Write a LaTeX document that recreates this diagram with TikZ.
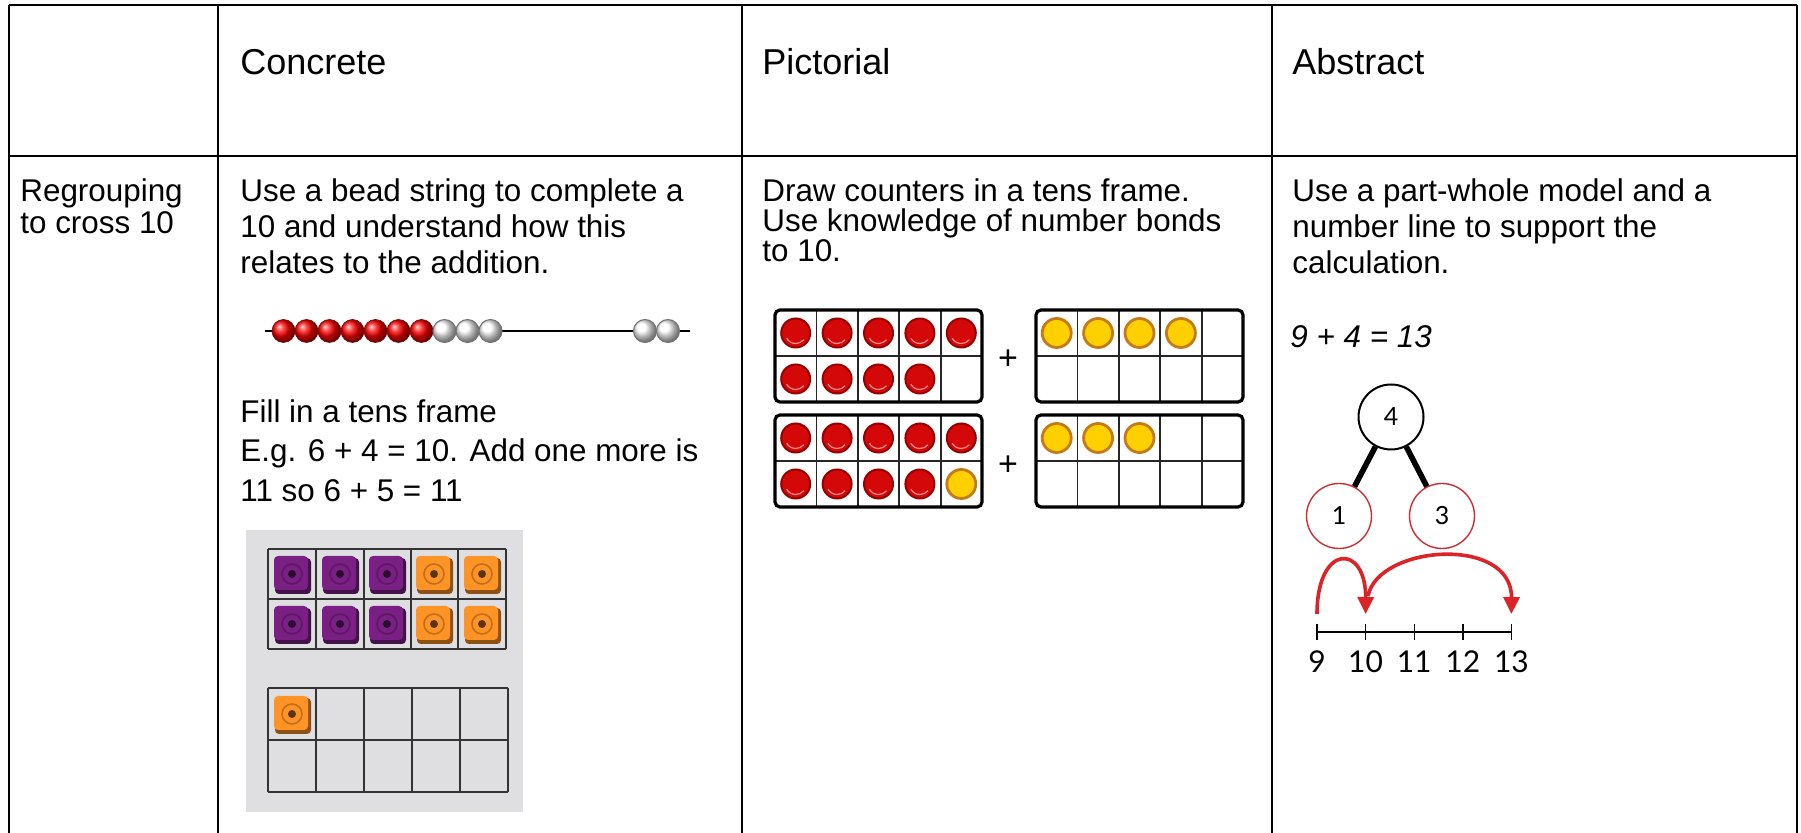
\documentclass[tikz,border=0pt]{standalone}
\usepackage{fontspec}
\setmainfont{Liberation Sans}
\newfontfamily\kidfont{Lato}
\usetikzlibrary{arrows.meta,positioning}

\definecolor{counterred}{RGB}{212,8,8}
\definecolor{counterredrim}{RGB}{150,0,0}
\definecolor{counteryel}{RGB}{255,208,0}
\definecolor{counteryelrim}{RGB}{196,122,24}
\definecolor{cubepurple}{RGB}{122,32,132}
\definecolor{cubeorange}{RGB}{255,148,38}
\definecolor{photogrey}{RGB}{223,223,226}
\definecolor{partred}{RGB}{205,45,50}
\definecolor{jumpred}{RGB}{220,35,40}

% ten frame of the pictorial column, top left corner at (#1,#2)
\newcommand{\tenframe}[2]{%
  \foreach \k in {1,...,4} {\draw[gridline] (#1+41.4*\k,#2) -- (#1+41.4*\k,#2+92);}
  \draw[gridline] (#1,#2+46) -- (#1+207,#2+46);
  \draw[frameline] (#1,#2) rectangle (#1+207,#2+92);}
% counter in column #3, row #4 of the frame at (#1,#2)
\newcommand{\putcounter}[5]{%
  \draw[#5] (#1+20.7+41.4*#3,#2+23+46*#4) circle[radius=14.5];}
% shine on a red counter
\newcommand{\shine}[4]{%
  \draw[red!45!white, line width=0.6pt] (#1+20.7+41.4*#3,#2+23+46*#4) ++(150:10.5) arc[start angle=150, end angle=40, radius=10.5];}
% linking cube seen from above
\newcommand{\putcube}[3]{%
  \fill[#3!55!black, rounded corners=2pt] (#1-17,#2-16) rectangle (#1+19,#2+20);
  \fill[#3, rounded corners=2pt] (#1-18,#2-18) rectangle (#1+16,#2+16);
  \draw[#3!75!black, line width=0.8pt] (#1,#2) circle[radius=10];
  \fill[#3!35!black] (#1,#2) circle[radius=4];}

\begin{document}
\begin{tikzpicture}[x=0.5pt,y=-0.5pt,
    rule/.style={line width=0.8pt},
    headtxt/.style={anchor=base west, inner sep=0pt, font=\fontsize{18}{22}\selectfont},
    celltxt/.style={anchor=base west, inner sep=0pt, font=\fontsize{15.7}{19}\selectfont},
    gridline/.style={line width=0.9pt, black!85},
    frameline/.style={line width=1.6pt, rounded corners=2.5pt},
    redcounter/.style={fill=counterred, draw=counterredrim, line width=1pt},
    yelcounter/.style={fill=counteryel, draw=counteryelrim, line width=1.4pt},
    photoline/.style={line width=0.7pt, black!80},
    beadline/.style={line width=0.6pt},
    redbead/.style={ball color=red, draw=red!45!black, line width=0.3pt},
    whitebead/.style={ball color=white, draw=black!55, line width=0.5pt},
    whole/.style={circle, draw, line width=1pt, minimum size=32.5pt, inner sep=0pt,
        font=\kidfont\fontsize{12.5}{14}\selectfont},
    part/.style={whole, draw=partred, line width=0.7pt},
    limb/.style={line width=2.8pt},
    tickmark/.style={line width=0.7pt},
    numlab/.style={inner sep=0pt, font=\kidfont\fontsize{15}{17}\selectfont},
    plussign/.style={inner sep=0pt, font=\fontsize{17}{20}\selectfont},
    jump/.style={draw=jumpred, line width=1.8pt, -{Triangle[length=8.5pt,width=8pt]}},
  ]
  \useasboundingbox (0,0) rectangle (1801,833);

  % table
  \draw[rule] (9,5) -- (1797,5);
  \draw[rule] (9,156) -- (1797,156);
  \foreach \x in {9,218,742,1272,1797} {\draw[rule] (\x,5) -- (\x,840);}

  % headings
  \node[headtxt] (hconc) at (240,75) {Concrete};
  \node[headtxt] (hpict) at (762,75) {Pictorial};
  \node[headtxt] (habs) at (1292,75) {Abstract};

  % row label
  \node[celltxt] (rg1) at (20,202) {Regrouping};
  \node[celltxt] (rg2) at (20,234) {to cross 10};

  % concrete
  \node[celltxt] (cc1) at (240,202) {Use a bead string to complete a};
  \node[celltxt] (cc2) at (240,238) {10 and understand how this};
  \node[celltxt] (cc3) at (240,274) {relates to the addition.};
  \draw[beadline] (265,331) -- (690,331);
  \foreach \i in {0,...,6} {\shadedraw[redbead] (283.5+23*\i,331) circle[radius=11.5];}
  \foreach \i in {7,8,9} {\shadedraw[whitebead] (283.5+23*\i,331) circle[radius=11.5];}
  \foreach \x in {645,668} {\shadedraw[whitebead] (\x,331) circle[radius=11.5];}
  \node[celltxt] (cf1) at (240,423) {Fill in a tens frame};
  \node[celltxt] (cf2) at (240,462) {E.g. 6 + 4 = 10. Add one more is};
  \node[celltxt] (cf3) at (240,502) {11 so 6 + 5 = 11};
  % photo of the cubes
  \fill[photogrey] (246,530) rectangle (523,812);
  \foreach \x in {268,316,364,411,458,506} {\draw[photoline] (\x,549) -- (\x,649);}
  \foreach \y in {549,599,649} {\draw[photoline] (268,\y) -- (506,\y);}
  \foreach \x in {268,316,364,412,460,508} {\draw[photoline] (\x,688) -- (\x,792);}
  \foreach \y in {688,740,792} {\draw[photoline] (268,\y) -- (508,\y);}
  \foreach \x in {292,340,387} {
    \putcube{\x}{574}{cubepurple}
    \putcube{\x}{624}{cubepurple}}
  \foreach \x in {434,482} {
    \putcube{\x}{574}{cubeorange}
    \putcube{\x}{624}{cubeorange}}
  \putcube{292}{714}{cubeorange}

  % pictorial
  \node[celltxt] (pc1) at (762,202) {Draw counters in a tens frame.};
  \node[celltxt] (pc2) at (762,232) {Use knowledge of number bonds};
  \node[celltxt] (pc3) at (762,262) {to 10.};
  \tenframe{775}{310}
  \foreach \c in {0,...,4} {\putcounter{775}{310}{\c}{0}{redcounter}\shine{775}{310}{\c}{0}}
  \foreach \c in {0,...,3} {\putcounter{775}{310}{\c}{1}{redcounter}\shine{775}{310}{\c}{1}}
  \tenframe{1036}{310}
  \foreach \c in {0,...,3} {\putcounter{1036}{310}{\c}{0}{yelcounter}}
  \tenframe{775}{415}
  \foreach \c in {0,...,4} {\putcounter{775}{415}{\c}{0}{redcounter}\shine{775}{415}{\c}{0}}
  \foreach \c in {0,...,3} {\putcounter{775}{415}{\c}{1}{redcounter}\shine{775}{415}{\c}{1}}
  \putcounter{775}{415}{4}{1}{yelcounter}
  \tenframe{1036}{415}
  \foreach \c in {0,...,2} {\putcounter{1036}{415}{\c}{0}{yelcounter}}
  \node[plussign] (plus1) at (1008,360) {+};
  \node[plussign] (plus2) at (1008,466) {+};

  % abstract
  \node[celltxt] (ab1) at (1292,202) {Use a part-whole model and a};
  \node[celltxt] (ab2) at (1292,238) {number line to support the};
  \node[celltxt] (ab3) at (1292,274) {calculation.};
  \node[celltxt, font=\fontsize{15.7}{19}\selectfont\itshape] (sum) at (1290,348) {9 + 4 = 13};
  \node[whole] (w4) at (1391,417) {4};
  \node[part] (p1) at (1339,516) {1};
  \node[part] (p3) at (1442,516) {3};
  \draw[limb] (w4) -- (p1);
  \draw[limb] (w4) -- (p3);
  \foreach \n [count=\i from 0] in {9,10,11,12,13} {
    \coordinate (t\n) at (1317+48.6*\i,632);
    \coordinate (a\n) at (1317+48.6*\i,614);
    \draw[tickmark] (1317+48.6*\i,624) -- (1317+48.6*\i,640);
    \node[numlab] (n\n) at (1317+48.6*\i,662) {\n};
  }
  \draw[tickmark] (t9) -- (t13);
  \coordinate (j2) at (1368,596);
  \draw[jump] (a9) .. controls (1317,543) and (1366,543) .. (a10);
  \draw[jump] (j2) .. controls (1378,545) and (1512,535) .. (a13);
\end{tikzpicture}
\end{document}
